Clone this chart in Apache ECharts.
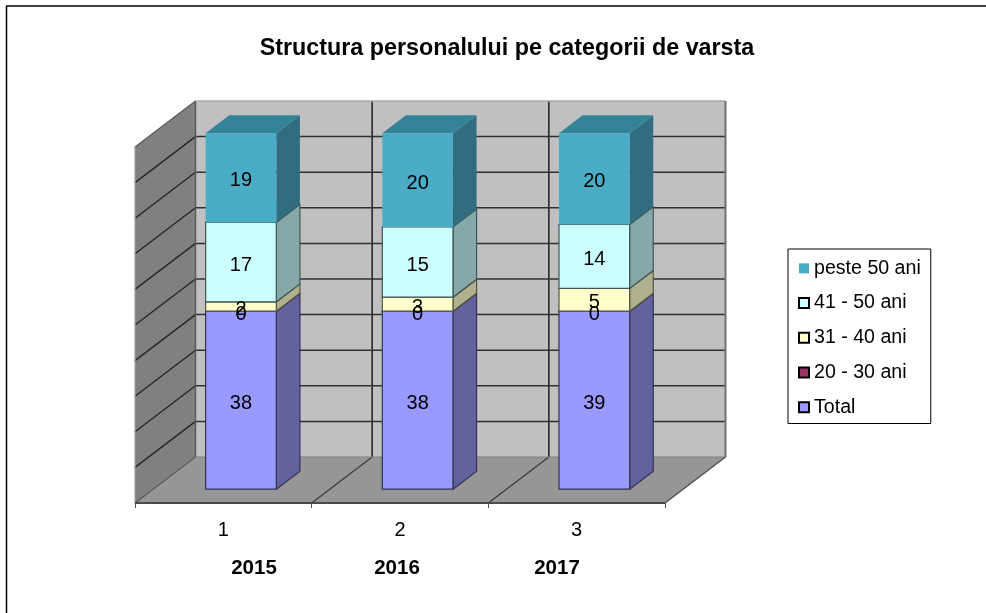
<!DOCTYPE html>
<html><head><meta charset="utf-8">
<style>html,body{margin:0;padding:0;background:#fff}#c{width:986px;height:613px}</style>
<script src="https://cdn.jsdelivr.net/npm/echarts@6/dist/echarts.min.js"></script>
</head><body><div id="c"></div>
<script>
const categories = ['1','2','3'];
const yearLabels = ['2015','2016','2017'];
const yearLabelX = [254,397,557];
const total   = [38,38,39];
const age2030 = [0,0,0];
const age3140 = [2,3,5];
const age4150 = [17,15,14];
const age50p  = [19,20,20];
const percentTicks = [0,10,20,30,40,50,60,70,80,90,100];
const seriesNames = ['Total','20 - 30 ani','31 - 40 ani','41 - 50 ani','peste 50 ani'];
const seriesValues = [total,age2030,age3140,age4150,age50p];
const legendOrder = ['peste 50 ani','41 - 50 ani','31 - 40 ani','20 - 30 ani','Total'];
const faceColors = ['#9999ff','#993366','#ffffcc','#ccffff','#4bacc6'];
const sideColors = ['#62629f','#66223f','#b0b08e','#86a8a8','#306d80'];
const topColors  = ['#7a7acc','#7a2952','#c9c9a0','#a3cccc','#358399'];
const edgeColors = ['#333355','#333','#55553f','#3f5555',null];

// oblique projection of the chart's depth axis
const DX = 60.5, DY = -46;
const BAR_D0 = 0.30, BAR_D1 = 0.69;
const BAR_W = 0.40;

function wallItem(params, api){
  const band = api.size([1,0])[0];
  const x0 = api.coord([0,0])[0]-band/2;
  const n = categories.length;
  const xr = x0+band*n;
  const y0 = api.coord([0,0])[1];
  const y1 = api.coord([0,100])[1];
  const ch = [];
  const poly=(pts,fill,stroke,lw)=>ch.push({type:'polygon',shape:{points:pts},style:{fill:fill,stroke:stroke||null,lineWidth:lw||0}});
  const line=(a,b,c,w)=>ch.push({type:'line',shape:{x1:a[0],y1:a[1],x2:b[0],y2:b[1]},style:{stroke:c,lineWidth:w}});
  poly([[x0+DX,y1+DY],[xr+DX,y1+DY],[xr+DX,y0+DY],[x0+DX,y0+DY]],'#c0c0c0');
  poly([[x0,y1],[x0+DX,y1+DY],[x0+DX,y0+DY],[x0,y0]],'#808080');
  poly([[x0,y0],[x0+DX,y0+DY],[xr+DX,y0+DY],[xr,y0]],'#969696');
  percentTicks.forEach(p=>{
    const y=api.coord([0,p])[1];
    if(p>0 && p<100){
      line([x0,y],[x0+DX,y+DY],'#262626',1.4);
      line([x0+DX,y+DY],[xr+DX,y+DY],'#303030',1.5);
    }
  });
  for(let i=1;i<n;i++){
    const x=x0+band*i;
    line([x+DX,y1+DY],[x+DX,y0+DY],'#303030',1.7);
    line([x,y0],[x+DX,y0+DY],'#3a3a3a',1.2);
  }
  line([x0+DX,y1+DY],[x0+DX,y0+DY],'#5a5a5a',1.5);
  line([x0+DX,y1+DY],[xr+DX,y1+DY],'#a8a8a8',1.5);
  line([xr+DX,y1+DY],[xr+DX,y0+DY],'#707070',2);
  line([x0+DX,y0+DY],[xr+DX,y0+DY],'#808080',1.2);
  line([x0,y0],[x0+DX,y0+DY],'#5a5a5a',1.2);
  line([x0,y1],[x0+DX,y1+DY],'#5a5a5a',1.2);
  line([x0,y1],[x0,y0],'#a0a0a0',1.2);
  line([xr,y0],[xr+DX,y0+DY],'#4a4a4a',1.2);
  line([x0,y0],[xr,y0],'#4a4a4a',2);
  return {type:'group',children:ch};
}

function prismItem(si){
  return function(params, api){
    const c = api.value(0), start = api.value(1), end = api.value(2), raw = api.value(3);
    const band = api.size([1,0])[0];
    const pBase = api.coord([c,start]), pTop = api.coord([c,end]);
    const w = band*BAR_W;
    const ox = DX*BAR_D0, oy = DY*BAR_D0;
    const l = pBase[0]-w/2+ox-0.5, r = l+w;
    const yb = pBase[1]+oy, yt = pTop[1]+oy;
    const ddx = DX*(BAR_D1-BAR_D0), ddy = DY*(BAR_D1-BAR_D0);
    const st = edgeColors[si] ? {stroke:edgeColors[si],lineWidth:1.2,lineJoin:'round'} : {};
    const ch = [
      {type:'polygon',shape:{points:[[r,yb],[r+ddx,yb+ddy],[r+ddx,yt+ddy],[r,yt]]},style:Object.assign({fill:sideColors[si]},st)},
      {type:'polygon',shape:{points:[[l,yt],[l+ddx,yt+ddy],[r+ddx,yt+ddy],[r,yt]]},style:Object.assign({fill:topColors[si]},st)},
      {type:'rect',shape:{x:l,y:yt,width:w,height:yb-yt},style:Object.assign({fill:faceColors[si]},st)},
      {type:'text',z2:100,style:{text:String(raw),x:(l+r)/2,y:(yb+yt)/2+3,align:'center',verticalAlign:'middle',fill:'#000',font:'20px "Liberation Sans", Arial, sans-serif'}}
    ];
    return {type:'group',children:ch};
  };
}

const totals = categories.map((_,i)=>seriesValues.reduce((s,v)=>s+v[i],0));
const cum = categories.map(()=>0);
const prismSeries = seriesNames.map((name,si)=>{
  const data = categories.map((_,i)=>{
    const a = cum[i]; cum[i]+=seriesValues[si][i];
    return [i, a/totals[i]*100, cum[i]/totals[i]*100, seriesValues[si][i]];
  });
  return {type:'custom',name,coordinateSystem:'cartesian2d',data,renderItem:prismItem(si),
    encode:{x:0,y:[1,2]},itemStyle:{color:faceColors[si]},z:3,clip:false,silent:true,animation:false};
});

const font='"Liberation Sans", Arial, sans-serif';
const chart = echarts.init(document.getElementById('c'),null,{renderer:'canvas'});
chart.setOption({
  animation:false,
  backgroundColor:'#fff',
  title:{text:'Structura personalului pe categorii de varsta',left:502,top:32,textAlign:'center',
    textStyle:{fontFamily:font,fontWeight:'bold',fontSize:23.3,color:'#000'}},
  grid:{left:135,top:147,width:530,height:356,containLabel:false},
  xAxis:{type:'category',data:categories,
    axisLine:{show:false},
    axisTick:{show:true,length:5,lineStyle:{color:'#555',width:1}},
    axisLabel:{fontFamily:font,fontSize:20,color:'#000',margin:17}},
  yAxis:{type:'value',min:0,max:100,interval:10,show:false},
  legend:{orient:'vertical',left:788,top:249,selectedMode:false,
    data:legendOrder.map(n=>{
      const i=seriesNames.indexOf(n);
      return {name:n,icon:'rect',itemStyle:{color:faceColors[i],borderColor:n==='peste 50 ani'?faceColors[i]:'#000',borderWidth:n==='peste 50 ani'?0:2}};
    }),
    itemWidth:10,itemHeight:10,itemGap:14,padding:[9,10,6,10],
    backgroundColor:'#fff',borderColor:'#000',borderWidth:1,
    textStyle:{fontFamily:font,fontSize:19.6,color:'#000',lineHeight:20.7}},
  graphic:[
    {type:'line',silent:true,z:5,shape:{x1:6,y1:6,x2:986,y2:6},style:{stroke:'#000',lineWidth:1.5}},
    {type:'line',silent:true,z:5,shape:{x1:6.5,y1:6,x2:6.5,y2:613},style:{stroke:'#000',lineWidth:1.5}}
  ].concat(yearLabels.map((t,i)=>({type:'text',silent:true,z:5,x:yearLabelX[i],y:568,
    style:{text:t,align:'center',verticalAlign:'middle',fill:'#000',font:'bold 20.5px '+font}}))),
  series:[{type:'custom',name:'walls',coordinateSystem:'cartesian2d',data:[[0,0]],renderItem:wallItem,z:1,clip:false,silent:true}].concat(prismSeries)
});
</script></body></html>
